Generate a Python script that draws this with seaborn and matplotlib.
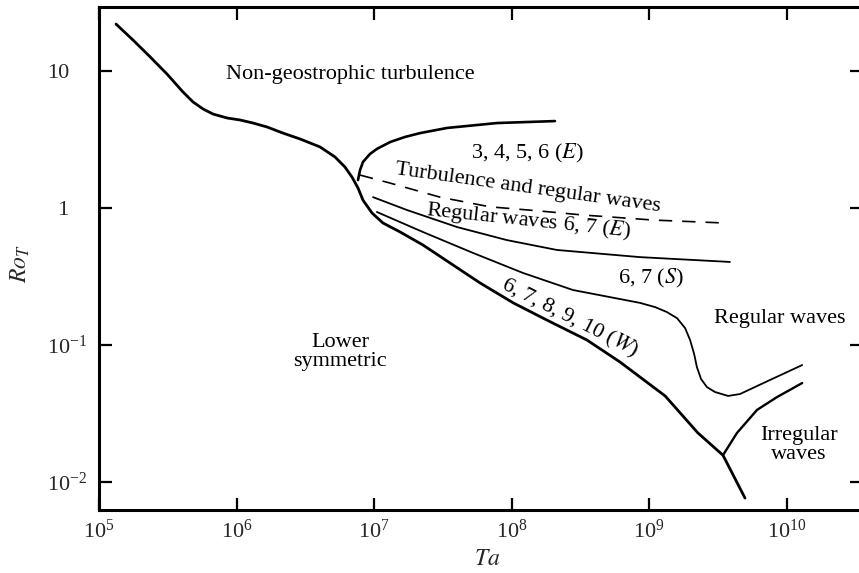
import numpy as np
import pandas as pd
import matplotlib
matplotlib.use("Agg")
import matplotlib.pyplot as plt
import seaborn as sns

# ---------------- data ----------------
main_ta = [1.33e5, 1.77e5, 2.35e5, 3.12e5, 4.08e5, 4.83e5, 5.71e5, 6.75e5, 8.53e5,
           1.06e6, 1.32e6, 1.67e6, 2.18e6, 2.90e6, 4.05e6, 5.20e6, 6.15e6, 6.92e6,
           7.65e6, 8.32e6, 9.67e6, 1.16e7, 1.55e7, 2.27e7, 3.57e7, 5.90e7, 1.03e8,
           1.81e8, 3.54e8, 6.15e8, 1.31e9, 2.27e9, 3.45e9, 4.99e9]
main_ro = [22.0, 16.8, 12.7, 9.51, 7.03, 5.94, 5.28, 4.85, 4.54,
           4.39, 4.17, 3.90, 3.52, 3.19, 2.79, 2.36, 1.99, 1.68,
           1.40, 1.14, 0.92, 0.778, 0.668, 0.537, 0.397, 0.284, 0.203,
           0.152, 0.1087, 0.0752, 0.0425, 0.0228, 0.0157, 0.00764]

e_ta = [7.65e6, 7.91e6, 8.32e6, 9.35e6, 1.05e7, 1.31e7, 1.68e7, 2.16e7, 3.40e7, 7.85e7, 2.07e8]
e_ro = [1.60, 1.89, 2.17, 2.48, 2.70, 3.03, 3.30, 3.52, 3.84, 4.17, 4.31]

dash_ta = [7.91e6, 1.31e7, 3.02e7, 6.98e7, 1.61e8, 3.31e8, 1.07e9, 3.45e9]
dash_ro = [1.74, 1.52, 1.20, 1.02, 0.951, 0.889, 0.817, 0.778]

rwe_ta = [9.84e6, 1.74e7, 4.02e7, 9.27e7, 2.14e8, 8.61e8, 3.88e9]
rwe_ro = [1.20, 0.966, 0.726, 0.583, 0.494, 0.438, 0.404]

s_ta = [1.05e7, 2.27e7, 5.25e7, 1.21e8, 2.80e8, 8.61e8, 1.11e9, 1.35e9, 1.60e9,
        1.83e9, 1.99e9, 2.13e9, 2.23e9, 2.39e9, 2.64e9, 3.02e9, 3.76e9, 4.59e9,
        7.59e9, 1.30e10]
s_ro = [0.935, 0.668, 0.470, 0.336, 0.252, 0.203, 0.189, 0.174, 0.157,
        0.133, 0.1087, 0.0859, 0.0690, 0.0565, 0.0493, 0.0454, 0.0425, 0.0439,
        0.0556, 0.0714]

irr_ta = [3.45e9, 4.36e9, 6.10e9, 8.53e9, 1.30e10]
irr_ro = [0.0157, 0.0228, 0.0336, 0.0417, 0.0528]

x_ticks = [1e5, 1e6, 1e7, 1e8, 1e9, 1e10]
x_tick_labels = [r"$\mathdefault{10^{5}}$", r"$\mathdefault{10^{6}}$", r"$\mathdefault{10^{7}}$",
                 r"$\mathdefault{10^{8}}$", r"$\mathdefault{10^{9}}$", r"$\mathdefault{10^{10}}$"]
y_ticks = [1e-2, 1e-1, 1, 10]
y_tick_labels = [r"$\mathdefault{10^{-2}}$", r"$\mathdefault{10^{-1}}$", "  1", "10"]

region_texts = ["Non-geostrophic turbulence", "3, 4, 5, 6 ($E$)",
                "Turbulence and regular waves", "Regular waves 6, 7 ($E$)",
                "6, 7 ($S$)", "Regular waves", "6, 7, 8, 9, 10 ($W$)",
                "Irregular\nwaves", "Lower\nsymmetric"]
region_ta = [6.68e6, 1.30e8, 1.32e8, 1.32e8, 1.03e9, 8.97e9, 2.66e8, 1.23e10, 5.66e6]
region_ro = [9.35, 2.52, 1.40, 0.803, 0.308, 0.157, 0.157, 0.0186, 0.0889]
region_rot = [0, 0, -8, -6, 0, 0, -27, 0, 0]

# ---------------- style ----------------
sns.set_style("ticks")
plt.rcParams["font.family"] = ["Liberation Serif", "DejaVu Serif"]
plt.rcParams["mathtext.fontset"] = "stix"

fig = plt.figure(figsize=(8.59, 5.73), dpi=100)
W, H = 859, 573
ax = fig.add_axes([99 / W, 1 - 510 / H, (862 - 99) / W, (510 - 7) / H])
ax.set_xscale("log")
ax.set_yscale("log")

def draw(xs, ys, lw, dashes=None):
    df = pd.DataFrame({"Ta": xs, "Ro": ys})
    sns.lineplot(data=df, x="Ta", y="Ro", sort=False, estimator=None,
                 color="black", linewidth=lw, ax=ax)
    line = ax.lines[-1]
    line.set_solid_capstyle("round")
    line.set_solid_joinstyle("round")
    if dashes is not None:
        line.set_dashes(dashes)

draw(main_ta, main_ro, 2.0)
draw(e_ta, e_ro, 1.9)
draw(dash_ta, dash_ro, 1.2, dashes=[8, 6])
draw(rwe_ta, rwe_ro, 1.3)
draw(s_ta, s_ro, 1.3)
draw(irr_ta, irr_ro, 1.7)

ax.set_xlim(1e5, 10 ** 10.549)
ax.set_ylim(10 ** -2.204, 10 ** 1.467)
ax.minorticks_off()
ax.set_xticks(x_ticks)
ax.set_xticklabels(x_tick_labels)
ax.set_yticks(y_ticks)
ax.set_yticklabels(y_tick_labels, ha="left")

ax.tick_params(axis="both", which="major", direction="in", length=9, width=1.6,
               top=True, right=True, labelsize=16, color="black")
ax.tick_params(axis="y", pad=37.4)
ax.tick_params(axis="x", pad=7)

for side in ["left", "bottom", "top"]:
    ax.spines[side].set_linewidth(2.2)
    ax.spines[side].set_color("black")
ax.spines["right"].set_visible(False)

ax.set_xlabel("$Ta$", fontsize=17)
ax.set_ylabel("$Ro_T$", fontsize=17)
ax.xaxis.set_label_coords(0.5085, -0.078)
ax.yaxis.set_label_coords(-0.088, 0.491)

for t, x, y, r in zip(region_texts, region_ta, region_ro, region_rot):
    ax.text(x, y, t, fontsize=16, ha="center", va="center", rotation=r,
            rotation_mode="anchor", linespacing=0.95, color="black")

fig.savefig("out.png", dpi=100)
